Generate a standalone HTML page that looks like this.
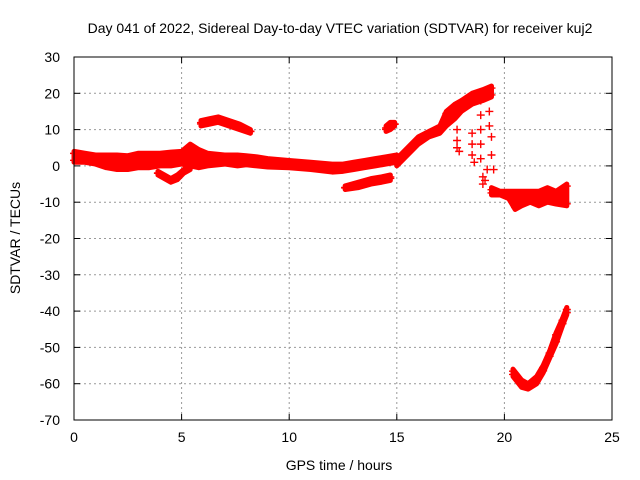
<!DOCTYPE html>
<html><head><meta charset="utf-8"><style>
body{margin:0;background:#fff}
svg{display:block;font-family:"Liberation Sans",sans-serif}
</style></head><body>
<svg id="c" width="640" height="480">
<rect width="640" height="480" fill="#fff"/>
<text x="340" y="33" font-size="14" text-anchor="middle">Day 041 of 2022, Sidereal Day-to-day VTEC variation (SDTVAR) for receiver kuj2</text>
<text x="339" y="470" font-size="14" text-anchor="middle">GPS time / hours</text>
<text x="20" y="238" font-size="14" text-anchor="middle" transform="rotate(-90 20 238)">SDTVAR / TECUs</text>
<g id="grid"></g><g id="ticks"></g><g id="marks"></g>
<rect x="74" y="57" width="538" height="363" fill="none" stroke="#000" stroke-width="1"/>
</svg>
<script>
const xTicks=[0,5,10,15,20,25];
const yTicks=[30,20,10,0,-10,-20,-30,-40,-50,-60,-70];
// band series: times, lower, upper values
const mainT =[0,0.5,1,1.5,2,2.5,3,3.5,4,4.5,5,5.4,5.8,6.2,7,7.6,8,8.5,9,10,11,12,12.5,13,13.5,14,14.5,15];
const mainLo=[1,1,0.5,-0.5,-1,-1,-0.5,-0.5,0,0,0.5,0,-0.5,0,0.5,0,0.3,0,-0.3,-0.5,-1,-1.7,-1.5,-1,-0.5,0,0.5,1];
const mainHi=[4,3.5,3,3,3,2.8,3.5,3.5,3.5,3.8,4,6,4.5,3.5,3,3,2.8,2.5,2,1.5,1,0.5,0.5,1,1.5,2,2.5,3];
const dipT =[3.9,4.2,4.5,4.8,5.1,5.4];
const dipLo=[-2.5,-3.5,-4.5,-3.8,-2,-1];
const dipHi=[-1.5,-2.5,-3.5,-2.5,-1,0];
const arcT =[5.9,6.3,6.7,7.2,7.7,8.2];
const arcLo=[11,11.5,12,11,10,9];
const arcHi=[12.5,13,13.5,12.5,11.5,10];
const midT =[12.6,13.2,13.8,14.3,14.7];
const midLo=[-6.5,-6,-5,-4.5,-4];
const midHi=[-5.5,-4.5,-3.5,-3,-2.5];
const smT =[14.5,14.7,14.9];
const smLo=[9.5,10,11];
const smHi=[11,12,12];
const riseT =[15,15.5,16,16.5,17,17.3,17.7,18,18.5,19,19.4];
const riseLo=[0,3,6,8,9,11,13,15,17,18,19];
const riseHi=[2,5,8,9.5,11,15,17,18,20,21,22];
const tailT =[19.4,19.8,20.2,20.5,20.8,21.2,21.6,22,22.4,22.9];
const tailLo=[-8,-8,-9,-12,-11,-10,-11,-10,-10.5,-11];
const tailHi=[-6,-7,-7,-7,-7,-7,-7,-6,-7,-5];
const lowT =[20.4,20.8,21.1,21.5,21.8,22.1,22.4,22.7,22.9];
const lowLo=[-58,-61,-61.5,-60,-57,-53,-49,-44,-41];
const lowHi=[-56,-59,-60,-58,-55,-51,-46,-42,-39];
// sparse spike markers
const spikeT=[17.8,17.8,17.8,17.9,18.5,18.5,18.5,18.6,18.9,18.9,18.9,18.9,18.9,19.0,19.2,19.3,19.3,19.3,19.4,19.4,19.0,19.1,19.5];
const spikeV=[10,7,5,4,9,6,3,1,18,14,10,6,2,-3,-1,20,15,11,8,3,-5,-4,-1];

const X=t=>74+t*21.52, Y=v=>57+(30-v)*3.63;
const NS='http://www.w3.org/2000/svg';
const grid=document.getElementById('grid'),ticks=document.getElementById('ticks'),marks=document.getElementById('marks');
function mk(tag,attrs,parent){const e=document.createElementNS(NS,tag);for(const k in attrs)e.setAttribute(k,attrs[k]);parent.appendChild(e);return e;}
xTicks.forEach(t=>{
  if(t>0&&t<25){const g=mk('line',{x1:X(t),x2:X(t),y1:57,y2:420,stroke:'#999','stroke-dasharray':'2,3'},grid);
  
  }
  mk('line',{x1:X(t),x2:X(t),y1:420,y2:414,stroke:'#000'},ticks);
  mk('line',{x1:X(t),x2:X(t),y1:57,y2:63,stroke:'#000'},ticks);
  const l=mk('text',{x:X(t),y:442,'font-size':14,'text-anchor':'middle'},ticks);l.textContent=t;
  
  
});
yTicks.forEach(v=>{
  if(v<30&&v>-70){const g=mk('line',{x1:74,x2:612,y1:Y(v),y2:Y(v),stroke:'#999','stroke-dasharray':'2,3'},grid);
  
  }
  mk('line',{x1:74,x2:80,y1:Y(v),y2:Y(v),stroke:'#000'},ticks);
  mk('line',{x1:612,x2:606,y1:Y(v),y2:Y(v),stroke:'#000'},ticks);
  const l=mk('text',{x:60,y:Y(v)+5,'font-size':14,'text-anchor':'end'},ticks);l.textContent=v;
  
  
});
function plus(x,y){mk('path',{d:`M${x-4},${y}H${x+4}M${x},${y-4}V${y+4}`,stroke:'red','stroke-width':1.4,fill:'none'},marks);}
function band(T,L,H,name){
  const pts=T.map((t,i)=>X(t)+','+Y(H[i])).concat(T.map((t,i)=>X(t)+','+Y(L[i])).reverse());
  const p=mk('polygon',{points:pts.join(' '),fill:'red',stroke:'red','stroke-width':5,'stroke-linejoin':'round'},marks);
  
  
  T.forEach((t,i)=>{plus(X(t),Y(L[i])-2);plus(X(t),Y(H[i])+2);});
}
band(mainT,mainLo,mainHi,'main-band');
band(dipT,dipLo,dipHi,'dip-band');
band(arcT,arcLo,arcHi,'arc-band');
band(midT,midLo,midHi,'mid-band');
band(smT,smLo,smHi,'small-band');
band(riseT,riseLo,riseHi,'rise-band');
band(tailT,tailLo,tailHi,'tail-band');
band(lowT,lowLo,lowHi,'low-band');
spikeT.forEach((t,i)=>plus(X(t),Y(spikeV[i])));
</script>
</body></html>
